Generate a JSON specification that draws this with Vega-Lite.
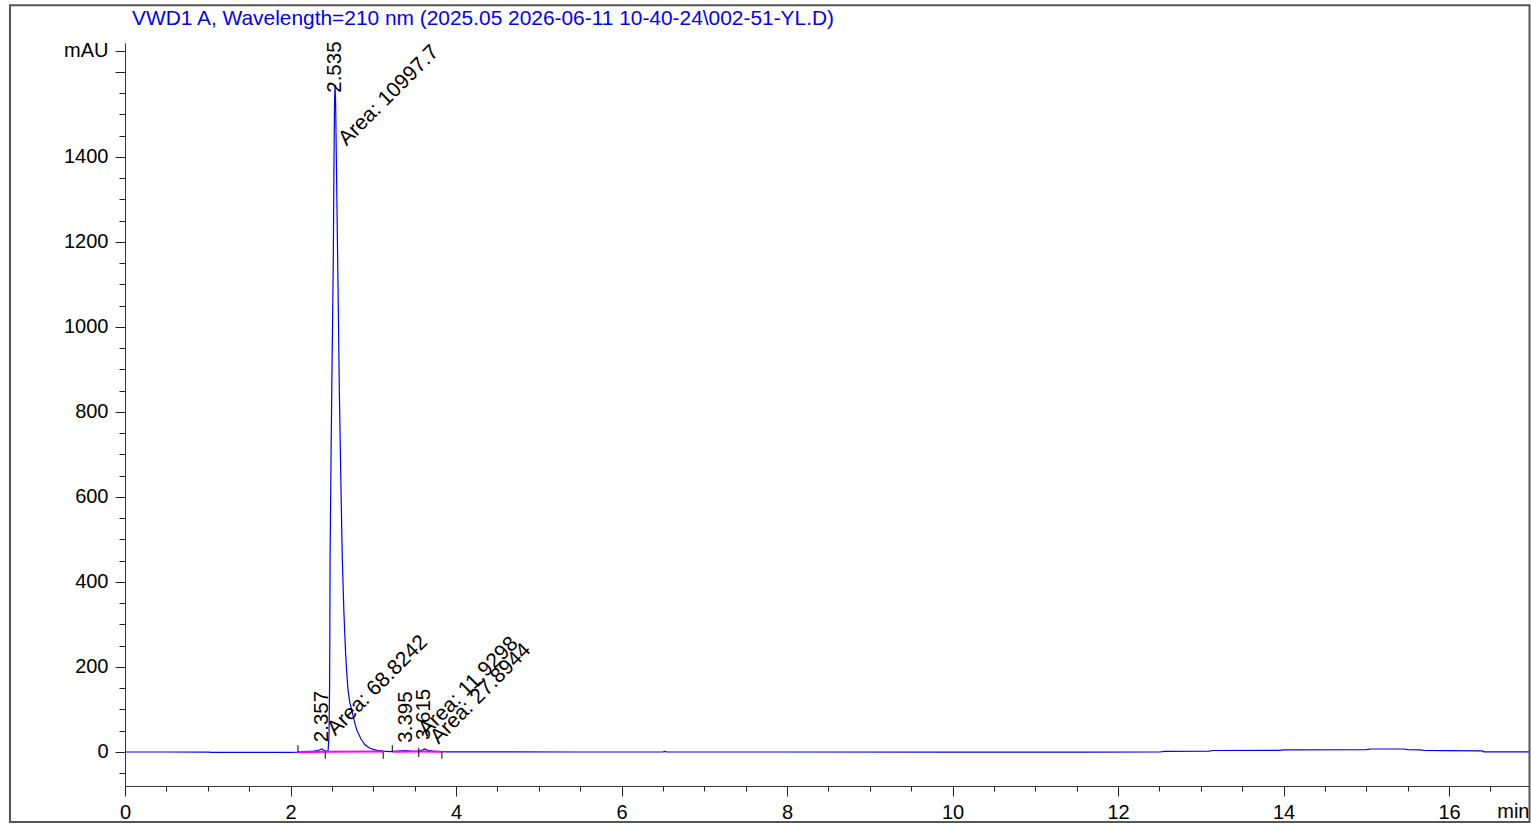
{
  "$schema": "https://vega.github.io/schema/vega-lite/v6.json",
  "width": 1404,
  "height": 743,
  "autosize": "none",
  "padding": {"left": 125, "top": 43, "right": 2, "bottom": 39},
  "background": "white",
  "title": {
    "text": "VWD1 A, Wavelength=210 nm (2025.05 2026-06-11 10-40-24\\002-51-YL.D)",
    "anchor": "start",
    "frame": "group",
    "orient": "top",
    "dx": 7,
    "offset": -42,
    "baseline": "alphabetic",
    "fontSize": 20.9,
    "fontWeight": "normal",
    "color": "#0000FF",
    "font": "Liberation Sans"
  },
  "datasets": {
    "trace": [
      {"t": 0, "v": 0}, {"t": 0.5, "v": 0}, {"t": 1.0, "v": -0.3}, {"t": 1.05, "v": -0.8},
      {"t": 2.0, "v": -0.8}, {"t": 2.09, "v": -0.5}, {"t": 2.15, "v": 1}, {"t": 2.2, "v": 1.5},
      {"t": 2.28, "v": 2}, {"t": 2.33, "v": 3}, {"t": 2.36, "v": 6}, {"t": 2.38, "v": 7},
      {"t": 2.40, "v": 4}, {"t": 2.43, "v": 2}, {"t": 2.445, "v": 0.5}, {"t": 2.455, "v": 5},
      {"t": 2.465, "v": 40}, {"t": 2.472, "v": 150}, {"t": 2.475, "v": 260}, {"t": 2.478, "v": 452},
      {"t": 2.49, "v": 700}, {"t": 2.50, "v": 880}, {"t": 2.51, "v": 1040}, {"t": 2.517, "v": 1157},
      {"t": 2.525, "v": 1380}, {"t": 2.532, "v": 1530}, {"t": 2.538, "v": 1570}, {"t": 2.545, "v": 1530},
      {"t": 2.555, "v": 1380}, {"t": 2.57, "v": 1157}, {"t": 2.59, "v": 850}, {"t": 2.61, "v": 620},
      {"t": 2.626, "v": 452}, {"t": 2.645, "v": 330}, {"t": 2.665, "v": 235}, {"t": 2.68, "v": 185},
      {"t": 2.695, "v": 146}, {"t": 2.715, "v": 118}, {"t": 2.74, "v": 99}, {"t": 2.77, "v": 74},
      {"t": 2.80, "v": 52}, {"t": 2.85, "v": 31}, {"t": 2.90, "v": 17}, {"t": 2.95, "v": 10},
      {"t": 3.0, "v": 6}, {"t": 3.05, "v": 4}, {"t": 3.12, "v": 2}, {"t": 3.2, "v": 1},
      {"t": 3.3, "v": 2}, {"t": 3.395, "v": 3}, {"t": 3.45, "v": 2}, {"t": 3.55, "v": 1.5},
      {"t": 3.6, "v": 5}, {"t": 3.62, "v": 7}, {"t": 3.66, "v": 4}, {"t": 3.72, "v": 2},
      {"t": 3.8, "v": 1}, {"t": 3.9, "v": 0.5}, {"t": 4.5, "v": 0.2}, {"t": 5.5, "v": 0},
      {"t": 6.5, "v": 0}, {"t": 6.52, "v": 1.5}, {"t": 6.55, "v": 0}, {"t": 8, "v": 0},
      {"t": 10, "v": -0.2}, {"t": 11.6, "v": -0.2}, {"t": 12.5, "v": 0}, {"t": 12.56, "v": 1.5},
      {"t": 13.1, "v": 2}, {"t": 13.15, "v": 3.5}, {"t": 13.95, "v": 4}, {"t": 14, "v": 5},
      {"t": 15.0, "v": 5.5}, {"t": 15.06, "v": 7}, {"t": 15.45, "v": 7}, {"t": 15.5, "v": 5.5},
      {"t": 15.66, "v": 5}, {"t": 15.7, "v": 3.5}, {"t": 15.95, "v": 3}, {"t": 16.4, "v": 2.5},
      {"t": 16.42, "v": 0.3}, {"t": 16.97, "v": 0.3}
    ],
    "baselines": [
      {"t1": 2.09, "t2": 2.42, "v1": -0.5, "v2": 0.5},
      {"t1": 2.42, "t2": 3.12, "v1": 0.5, "v2": 1},
      {"t1": 3.23, "t2": 3.55, "v1": 0.5, "v2": 1},
      {"t1": 3.55, "t2": 3.83, "v1": 1, "v2": 0.3}
    ],
    "markers": [
      {"t": 2.09, "lo": 0, "hi": 16},
      {"t": 2.42, "lo": -16, "hi": 0},
      {"t": 3.12, "lo": -16, "hi": 0},
      {"t": 3.23, "lo": 0, "hi": 16},
      {"t": 3.55, "lo": -12, "hi": 10},
      {"t": 3.83, "lo": -16, "hi": 0}
    ],
    "rtlabels": [
      {"t": 2.535, "v": 1551, "label": "2.535"},
      {"t": 2.377, "v": 23, "label": "2.357"},
      {"t": 3.393, "v": 22, "label": "3.395"},
      {"t": 3.617, "v": 28, "label": "3.615"}
    ],
    "arealabels": [
      {"t": 2.634, "v": 1416, "label": "Area: 10997.7"},
      {"t": 2.498, "v": 28, "label": "Area: 68.8242"},
      {"t": 3.605, "v": 27, "label": "Area: 11.9298"},
      {"t": 3.746, "v": 9, "label": "Area: 27.8944"}
    ]
  },
  "resolve": {"axis": {"x": "independent", "y": "independent"}},
  "layer": [
    {
      "data": {"name": "trace"},
      "mark": {"type": "line", "color": "#0000FF", "strokeWidth": 1.2, "interpolate": "linear"},
      "encoding": {
        "x": {"field": "t", "type": "quantitative",
          "scale": {"domain": [0, 16.966], "nice": false, "zero": false},
          "axis": {"orient": "bottom", "values": [0,2,4,6,8,10,12,14,16], "tickSize": 10,
            "labelFontSize": 20, "labelColor": "#000", "labelPadding": 6, "labelFlush": false, "labelOverlap": false,
            "domainColor": "#333", "tickColor": "#222", "grid": false,
            "title": "min", "titleX": 1404, "titleY": 25, "titleAlign": "right", "titleBaseline": "middle",
            "titleFontSize": 20, "titleFontWeight": "normal", "titleColor": "#000"}},
        "y": {"field": "v", "type": "quantitative",
          "scale": {"domain": [-80, 1668], "nice": false, "zero": false},
          "axis": {"orient": "left", "values": [0,200,400,600,800,1000,1200,1400,1600,1650], "tickSize": 10,
            "labelExpr": "datum.value == 1650 ? 'mAU' : (datum.value == 1600 ? '' : datum.label)",
            "format": "d",
            "labelFontSize": 20, "labelColor": "#000", "labelPadding": 7, "labelFlush": false, "labelOverlap": false,
            "domainColor": "#333", "tickColor": "#222", "grid": false, "title": null}}
      }
    },
    {
      "data": {"name": "baselines"},
      "mark": {"type": "rule", "color": "#FF00FF", "strokeWidth": 2},
      "encoding": {
        "x": {"field": "t1", "type": "quantitative",
          "scale": {"domain": [0, 16.966], "nice": false, "zero": false},
          "axis": {"orient": "bottom", "values": [0,0.5,1,1.5,2,2.5,3,3.5,4,4.5,5,5.5,6,6.5,7,7.5,8,8.5,9,9.5,10,10.5,11,11.5,12,12.5,13,13.5,14,14.5,15,15.5,16,16.5],
            "tickSize": 5, "labels": false, "title": null, "domainColor": "#333", "tickColor": "#222", "grid": false}},
        "x2": {"field": "t2"},
        "y": {"field": "v1", "type": "quantitative",
          "scale": {"domain": [-80, 1668], "nice": false, "zero": false},
          "axis": {"orient": "left", "values": [-50,0,50,100,150,200,250,300,350,400,450,500,550,600,650,700,750,800,850,900,950,1000,1050,1100,1150,1200,1250,1300,1350,1400,1450,1500,1550,1600,1650],
            "tickSize": 6, "labels": false, "title": null, "domainColor": "#333", "tickColor": "#222", "grid": false}},
        "y2": {"field": "v2"}
      }
    },
    {
      "data": {"name": "markers"},
      "mark": {"type": "rule", "color": "#000", "strokeWidth": 1},
      "encoding": {
        "x": {"field": "t", "type": "quantitative", "scale": {"domain": [0, 16.966], "nice": false, "zero": false}, "axis": null},
        "y": {"field": "lo", "type": "quantitative", "scale": {"domain": [-80, 1668], "nice": false, "zero": false}, "axis": null},
        "y2": {"field": "hi"}
      }
    },
    {
      "data": {"name": "rtlabels"},
      "mark": {"type": "text", "angle": 270, "align": "left", "baseline": "middle", "fontSize": 20.5, "color": "#000", "font": "Liberation Sans"},
      "encoding": {
        "x": {"field": "t", "type": "quantitative", "scale": {"domain": [0, 16.966], "nice": false, "zero": false}, "axis": null},
        "y": {"field": "v", "type": "quantitative", "scale": {"domain": [-80, 1668], "nice": false, "zero": false}, "axis": null},
        "text": {"field": "label"}
      }
    },
    {
      "data": {"name": "arealabels"},
      "mark": {"type": "text", "angle": 315, "align": "left", "baseline": "alphabetic", "dx": 5, "fontSize": 21, "color": "#000", "font": "Liberation Sans"},
      "encoding": {
        "x": {"field": "t", "type": "quantitative", "scale": {"domain": [0, 16.966], "nice": false, "zero": false}, "axis": null},
        "y": {"field": "v", "type": "quantitative", "scale": {"domain": [-80, 1668], "nice": false, "zero": false}, "axis": null},
        "text": {"field": "label"}
      }
    },
    {
      "data": {"values": [{}]},
      "mark": {"type": "rect", "filled": false, "stroke": "#555", "strokeWidth": 2, "clip": false},
      "encoding": {
        "x": {"datum": -1.39, "type": "quantitative", "scale": {"domain": [0, 16.966], "nice": false, "zero": false}, "axis": null},
        "x2": {"datum": 16.972},
        "y": {"datum": 1757, "type": "quantitative", "scale": {"domain": [-80, 1668], "nice": false, "zero": false}, "axis": null},
        "y2": {"datum": -164.7}
      }
    }
  ],
  "config": {
    "view": {"stroke": null},
    "font": "Liberation Sans",
    "axis": {"grid": false}
  }
}
